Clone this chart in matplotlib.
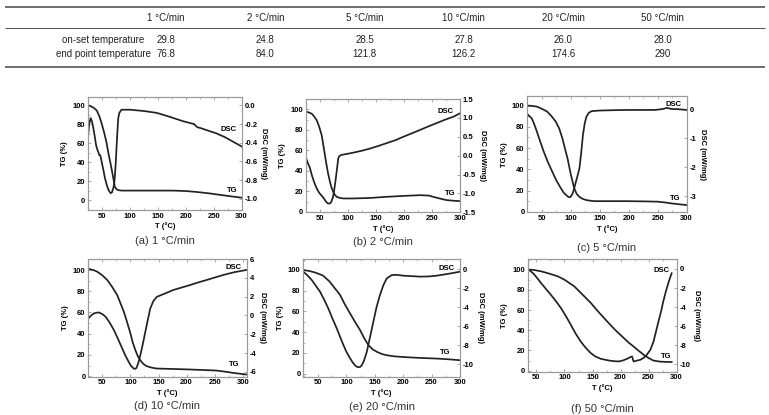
import matplotlib
matplotlib.use("Agg")
import matplotlib.pyplot as plt
from matplotlib.ticker import MultipleLocator, FixedLocator, FormatStrFormatter

# ---- table data ----
rates = ["1 °C/min", "2 °C/min", "5 °C/min", "10 °C/min", "20 °C/min", "50 °C/min"]
row_names = ["on-set temperature", "end point temperature"]
onset = ["29.8", "24.8", "28.5", "27.8", "26.0", "28.0"]
endpoint = ["76.8", "84.0", "121.8", "126.2", "174.6", "290"]

# ---- (a) 1 C/min ----
a_tg_T = [25.5, 30, 35, 40.5, 45, 49.5, 54, 58, 62, 67, 70, 73, 76, 79, 85, 100, 130, 160,
          177, 200, 220, 240, 255, 270, 285, 300]
a_tg = [100, 99, 97.5, 94.7, 89, 80.7, 71, 61, 48, 33.6, 24, 14, 11.5, 10.5, 10, 10, 10, 10,
        10, 9.5, 8.5, 7.2, 6, 4.8, 3.6, 2.5]
a_dsc_T = [25.5, 27, 29.8, 32, 34.5, 37, 39.3, 41.5, 43.5, 45, 46.5, 48, 50, 52.5, 55.4, 58.5,
           61.3, 63.5, 65.6, 68, 70.3, 72, 73.3, 74.8, 76.3, 77.8, 79.2, 81, 85, 100, 125, 148,
           170, 195.5, 215, 218, 221, 225, 240, 255, 270, 285, 300]
a_dsc = [-0.31, -0.2, -0.135, -0.17, -0.24, -0.33, -0.42, -0.47, -0.50, -0.53, -0.53, -0.56,
         -0.62, -0.69, -0.78, -0.85, -0.90, -0.925, -0.94, -0.93, -0.885, -0.83, -0.74, -0.6,
         -0.42, -0.26, -0.135, -0.08, -0.046, -0.046, -0.06, -0.08, -0.12, -0.17, -0.2, -0.22,
         -0.235, -0.24, -0.27, -0.3, -0.34, -0.39, -0.44]

# ---- (b) 2 C/min ----
b_tg_T = [25, 30, 35.7, 40, 44.6, 49, 53.5, 57, 61.2, 65, 68.3, 71, 74.2, 77, 80.2, 86, 92,
          110, 140, 169, 200, 228.5, 245, 252, 265, 276, 288, 300]
b_tg = [97.9, 97, 95.7, 93, 89.3, 83, 74.7, 63, 48.7, 37, 29.2, 23.5, 19.5, 16.5, 14.6, 13.5,
        13, 13, 13.5, 14.6, 15.5, 16.2, 15.8, 14.6, 12.8, 11.4, 10.8, 10.4]
b_dsc_T = [25, 28, 32.7, 36, 39.8, 43.5, 47.5, 51, 55.3, 59, 62.4, 65, 67.2, 69.5, 71.3, 73.5,
           75.4, 77.8, 80.2, 82, 83, 85, 89, 100, 110, 125, 140, 155, 169, 185, 199, 214,
           228.5, 243, 258, 273, 288, 300]
b_dsc = [-0.03, -0.17, -0.33, -0.52, -0.69, -0.83, -0.95, -1.02, -1.09, -1.17, -1.24, -1.265,
         -1.27, -1.25, -1.2, -1.1, -0.95, -0.7, -0.42, -0.2, -0.07, -0.01, 0.02, 0.05, 0.08,
         0.13, 0.19, 0.26, 0.33, 0.41, 0.5, 0.59, 0.68, 0.77, 0.86, 0.95, 1.03, 1.12]

# ---- (c) 5 C/min ----
c_tg_T = [25, 33, 41.6, 50, 59, 66, 74, 80, 85.6, 90, 94.5, 100.3, 106, 110, 115, 121, 127,
          135, 141.5, 170, 196, 225, 250, 262, 275, 288, 300]
c_tg = [100, 99.7, 99, 97, 94.4, 90.5, 85, 78.5, 69, 59.5, 50, 34.6, 22, 17, 14, 12, 11,
        10.3, 10, 10, 10, 9.8, 9.5, 8.8, 7.8, 7, 6.3]
c_dsc_T = [25, 28, 32.7, 37, 41.6, 47, 53.3, 60, 68, 75, 82.8, 88, 94.5, 97, 99, 101, 103.4,
           106, 109, 112, 115, 118, 121, 124, 127, 131, 136, 150, 170, 195, 220, 245, 258,
           265.7, 275, 283, 300]
c_dsc = [-0.17, -0.23, -0.32, -0.52, -0.78, -1.1, -1.46, -1.8, -2.15, -2.45, -2.72, -2.88,
         -3.0, -3.03, -3.03, -2.98, -2.89, -2.72, -2.49, -2.27, -2.03, -1.5, -0.89, -0.5,
         -0.26, -0.13, -0.07, -0.05, -0.04, -0.03, -0.03, -0.03, 0.0, 0.04, 0.0, 0.0, -0.03]

# ---- (d) 10 C/min ----
d_tg_T = [26, 35, 41, 50, 58.8, 67, 76.5, 82, 88.3, 94, 100, 104, 108.8, 113, 117.6, 123, 129,
          138, 147, 175, 206, 230, 253, 268, 282.6, 295, 306]
d_tg = [101, 99.8, 98.4, 95, 90.6, 84.5, 76.4, 69, 60.7, 51, 40.3, 32, 24.5, 19, 15, 11.5, 9.4,
        8, 7.2, 6.8, 6.3, 5.8, 5.3, 4.3, 3.1, 2.3, 1.6]
d_dsc_T = [26, 30, 35, 40, 44, 50, 56, 63, 70.7, 78, 85.4, 91, 97, 101, 106, 108.5, 110.6, 114,
           117.6, 122, 126.5, 131, 135.3, 141, 147, 160, 176, 190, 206, 220, 235, 250, 265,
           285, 306]
d_dsc = [-0.25, 0.0, 0.22, 0.3, 0.32, 0.15, -0.14, -0.75, -1.56, -2.5, -3.5, -4.25, -4.94,
         -5.35, -5.64, -5.66, -5.58, -5.05, -4.22, -3.05, -1.74, -0.45, 0.75, 1.55, 1.98, 2.3,
         2.7, 2.95, 3.23, 3.5, 3.76, 4.03, 4.3, 4.6, 4.83]

# ---- (e) 20 C/min ----
e_tg_T = [24, 35, 45, 53.5, 59, 70, 80, 88.7, 97, 106.4, 115, 124, 131, 138.6, 146, 153.5,
          162, 171, 185, 200, 229.8, 259, 280, 300]
e_tg = [100, 99, 97.5, 95.8, 94.5, 89, 82, 76, 67, 58, 50, 42, 34.5, 27.5, 23.5, 21, 19, 17.7,
        16.6, 16, 15.1, 14.5, 13.8, 12.9]
e_dsc_T = [24, 31, 38.8, 46, 53.5, 61, 68, 75, 82.8, 89, 94.6, 100, 106.4, 111, 115, 118, 121,
           124, 127, 131, 135.8, 141, 147.5, 153, 159, 165, 171, 180, 190, 200, 215, 229.8,
           245, 259, 280, 300]
e_dsc = [-0.28, -0.65, -1.15, -1.75, -2.38, -3.25, -4.13, -5.15, -6.22, -7.15, -7.97, -8.7,
         -9.37, -9.8, -10.1, -10.25, -10.3, -10.28, -10.1, -9.6, -8.7, -7.3, -5.5, -4.0, -2.73,
         -1.7, -0.98, -0.63, -0.62, -0.7, -0.75, -0.8, -0.78, -0.7, -0.5, -0.28]

# ---- (f) 50 C/min ----
f_tg_T = [37, 45, 58.5, 70, 88, 100, 117.3, 130, 147, 160, 176, 190, 205.7, 215, 223, 232,
          241, 250, 258.7, 270, 280, 291]
f_tg = [100, 99.7, 98.3, 96.5, 93.4, 90, 83.5, 76.5, 67, 58.5, 48.8, 40.5, 32.3, 27.5, 24,
        19.8, 15.8, 12.5, 10, 9, 8.7, 8.6]
f_dsc_T = [37, 45, 52, 58.5, 67, 76, 85, 94, 103, 111.5, 120, 129, 138, 147, 155, 164.5, 173,
           182, 190, 197, 205, 211.7, 216, 220.5, 223, 228, 235, 241, 247, 253, 258.7, 263,
           267.5, 272, 276, 280.5, 285, 288, 291]
f_dsc = [-0.1, -0.5, -1.0, -1.5, -2.1, -2.73, -3.4, -4.13, -5.0, -5.88, -6.8, -7.63, -8.3,
         -8.85, -9.2, -9.44, -9.55, -9.65, -9.7, -9.72, -9.6, -9.44, -9.3, -9.2, -9.72, -9.65,
         -9.55, -9.35, -9.0, -8.5, -7.63, -6.6, -5.53, -4.5, -3.43, -2.4, -1.5, -0.95, -0.45]

W, H = 769, 415
plt.rcParams["axes.unicode_minus"] = False
TABLE_FONT = "Liberation Sans"
PLOT_FONT = "Liberation Sans"
TABLE_FS = 7

LINE = "#222222"
SPINE = "#9a9a9a"
TICK_FS = 5.5


def px_rect(left, top, right, bottom):
    return [left / W, 1 - bottom / H, (right - left) / W, (bottom - top) / H]


fig = plt.figure(figsize=(W / 100, H / 100), dpi=100)

# table drawn in pixel coordinates
tab = fig.add_axes([0, 0, 1, 1])
tab.set_xlim(0, W)
tab.set_ylim(H, 0)
tab.axis("off")
tab.hlines([7, 67], 5, 765, color="#555555", lw=1.2)
tab.hlines([28], 5, 765, color="#555555", lw=0.7)
col_x = [166 + 99.3 * i for i in range(len(rates))]
for x, r, v1, v2 in zip(col_x, rates, onset, endpoint):
    tab.text(x, 18, r, ha="center", va="center", fontsize=TABLE_FS, family=TABLE_FONT,
             color="#222222")
    tab.text(x, 40, v1, ha="center", va="center", fontsize=TABLE_FS, family=TABLE_FONT,
             color="#222222")
    tab.text(x, 54, v2, ha="center", va="center", fontsize=TABLE_FS, family=TABLE_FONT,
             color="#222222")
for y, name in zip([40, 54], row_names):
    tab.text(103, y, name, ha="center", va="center", fontsize=TABLE_FS, family=TABLE_FONT,
             color="#222222")


def style(ax):
    for s in ax.spines.values():
        s.set_color(SPINE)
        s.set_linewidth(0.8)
    ax.tick_params(direction="in", length=2.5, width=0.6, color=SPINE, labelsize=TICK_FS,
                   pad=2)
    ax.tick_params(which="minor", direction="in", length=1.5, width=0.5, color=SPINE)
    for lab in ax.get_xticklabels() + ax.get_yticklabels():
        lab.set_fontweight("bold")
        lab.set_family(PLOT_FONT)


def panel(box, xlim, tg_T, tg, tg_ylim, dsc_T, dsc, dsc_ylim, dsc_ticks, dsc_fmt,
          dsc_pos, tg_pos, caption, cap_y):
    ax = fig.add_axes(px_rect(*box))
    ax2 = ax.twinx()
    ax.plot(tg_T, tg, color=LINE, lw=1.25)
    ax2.plot(dsc_T, dsc, color=LINE, lw=1.25)
    ax.set_xlim(*xlim)
    ax.set_ylim(*tg_ylim)
    ax2.set_ylim(*dsc_ylim)
    ax.xaxis.set_major_locator(FixedLocator([50, 100, 150, 200, 250, 300]))
    ax.xaxis.set_minor_locator(MultipleLocator(25))
    ax.yaxis.set_major_locator(FixedLocator([0, 20, 40, 60, 80, 100]))
    ax.yaxis.set_minor_locator(MultipleLocator(10))
    ax2.yaxis.set_major_locator(FixedLocator(dsc_ticks))
    ax2.yaxis.set_major_formatter(FormatStrFormatter(dsc_fmt))
    ax.tick_params(top=True, which="both")
    style(ax)
    style(ax2)
    ax.set_xlabel("T (°C)", fontsize=TICK_FS, fontweight="bold", family=PLOT_FONT, labelpad=2)
    ax.set_ylabel("TG (%)", fontsize=TICK_FS, fontweight="bold", family=PLOT_FONT, labelpad=3)
    ax2.set_ylabel("DSC (mW/mg)", fontsize=TICK_FS, fontweight="bold", family=PLOT_FONT,
                   rotation=270, labelpad=7)
    ax.text(dsc_pos[0], dsc_pos[1], "DSC", transform=ax.transAxes, ha="center", va="center",
            fontsize=TICK_FS, fontweight="bold", family=PLOT_FONT)
    ax.text(tg_pos[0], tg_pos[1], "TG", transform=ax.transAxes, ha="center", va="center",
            fontsize=TICK_FS, fontweight="bold", family=PLOT_FONT)
    cx = (box[0] + box[2]) / 2
    fig.text(cx / W, 1 - cap_y / H, caption, ha="center", va="center", fontsize=8,
             family=PLOT_FONT, color="#333333")


panel((88, 97, 241.7, 210), (25, 300), a_tg_T, a_tg, (-10.5, 108.8),
      a_dsc_T, a_dsc, (-1.12, 0.09), [0.0, -0.2, -0.4, -0.6, -0.8, -1.0], "%.1f",
      (0.913, 0.71), (0.94, 0.17), "(a) 1 °C/min", 241)
panel((305.7, 99, 460, 212.3), (25, 300), b_tg_T, b_tg, (-0.5, 110),
      b_dsc_T, b_dsc, (-1.5, 1.5), [-1.5, -1.0, -0.5, 0.0, 0.5, 1.0, 1.5], "%.1f",
      (0.909, 0.888), (0.935, 0.168), "(b) 2 °C/min", 242)
panel((527.3, 96, 686.7, 212.3), (25, 300), c_tg_T, c_tg, (-0.5, 109),
      c_dsc_T, c_dsc, (-3.55, 0.45), [0, -1, -2, -3], "%d",
      (0.916, 0.923), (0.927, 0.12), "(c) 5 °C/min", 248)
panel((88.3, 259, 246.7, 376.7), (25, 307), d_tg_T, d_tg, (-0.5, 110.4),
      d_dsc_T, d_dsc, (-6.5, 6.0), [-6, -4, -2, 0, 2, 4, 6], "%d",
      (0.915, 0.926), (0.92, 0.105), "(d) 10 °C/min", 406)
panel((303.3, 259, 460, 376.7), (24, 300), e_tg_T, e_tg, (-3, 110.6),
      e_dsc_T, e_dsc, (-11.3, 1.05), [0, -2, -4, -6, -8, -10], "%d",
      (0.911, 0.921), (0.904, 0.207), "(e) 20 °C/min", 407)
panel((528, 259, 676.7, 371.7), (35, 300), f_tg_T, f_tg, (-1, 110.5),
      f_dsc_T, f_dsc, (-10.8, 1.05), [0, -2, -4, -6, -8, -10], "%d",
      (0.899, 0.902), (0.928, 0.133), "(f) 50 °C/min", 409)

fig.savefig("out.png", dpi=100)
